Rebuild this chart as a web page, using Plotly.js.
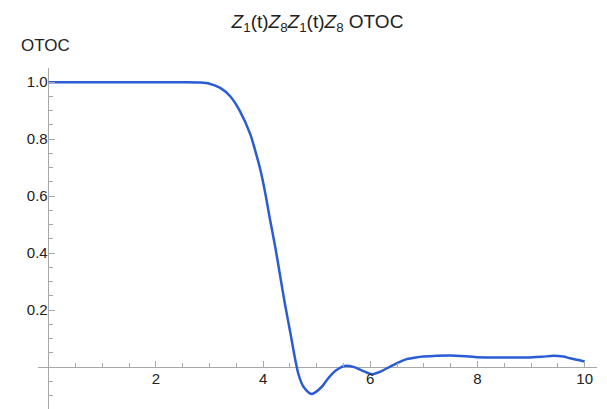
<!DOCTYPE html>
<html>
<head>
<meta charset="utf-8">
<script src="https://cdn.plot.ly/plotly-3.0.1.min.js"></script>
<style>html,body{margin:0;padding:0;background:#fff}#chart{width:607px;height:409px}</style>
</head>
<body>
<div id="chart"></div>
<script>
const t = [0, 0.5, 1, 1.5, 2, 2.5, 2.83, 3.0, 3.2, 3.39, 3.57, 3.76, 3.85, 3.95, 4.04, 4.13, 4.23, 4.32, 4.41, 4.51, 4.60, 4.66, 4.75, 4.91, 5.10, 5.19, 5.35, 5.52, 5.7, 5.85, 6.03, 6.2, 6.37, 6.52, 6.68, 6.85, 6.99, 7.49, 7.99, 8.49, 8.98, 9.2, 9.42, 9.6, 9.73, 10.0];
const otoc = [1, 1, 1, 1, 1, 1, 0.999, 0.995, 0.980, 0.950, 0.898, 0.818, 0.762, 0.692, 0.611, 0.517, 0.418, 0.318, 0.219, 0.119, 0.026, -0.025, -0.068, -0.094, -0.068, -0.045, -0.013, 0.004, 0.0, -0.012, -0.025, -0.015, 0.002, 0.016, 0.028, 0.034, 0.037, 0.041, 0.035, 0.034, 0.034, 0.036, 0.040, 0.037, 0.031, 0.020];
const xTickVals = [2, 4, 6, 8, 10];
const xTickText = ["2", "4", "6", "8", "10"];
const yTickVals = [0.2, 0.4, 0.6, 0.8, 1.0];
const yTickText = ["0.2", "0.4", "0.6", "0.8", "1.0"];

const xr = [-0.2, 10.23], yr = [-0.147, 1.05];
const x0frac = (0 - xr[0]) / (xr[1] - xr[0]);
const y0frac = (0 - yr[0]) / (yr[1] - yr[0]);
const axisColor = '#a8a8a8';
const tickFont = {family: 'Liberation Sans, Arial, sans-serif', size: 15, color: '#222'};

Plotly.newPlot('chart', [
  {x: t, y: otoc, type: 'scatter', mode: 'lines',
   line: {color: '#2a5cd6', width: 2.5, shape: 'spline', smoothing: 0.8}, hoverinfo: 'skip'},
  {x: [], y: [], xaxis: 'x2', yaxis: 'y2', type: 'scatter', mode: 'lines', hoverinfo: 'skip'},
  {x: [], y: [], xaxis: 'x2', yaxis: 'y3', type: 'scatter', mode: 'lines', hoverinfo: 'skip'}
], {
  width: 607, height: 409,
  margin: {l: 38, r: 10, t: 68, b: 0},
  paper_bgcolor: '#fff', plot_bgcolor: 'rgba(0,0,0,0)',
  showlegend: false,
  title: {
    text: '<i>Z</i><sub>1</sub>(t)<i>Z</i><sub>8</sub><i>Z</i><sub>1</sub>(t)<i>Z</i><sub>8</sub> OTOC',
    font: {family: 'Liberation Sans, Arial, sans-serif', size: 19, color: '#222'},
    x: 0.5, xref: 'paper', xanchor: 'center',
    y: 1 - 21/409, yref: 'container', yanchor: 'middle'
  },
  xaxis: {
    range: xr, domain: [0, 1], showgrid: false, showline: false, ticks: '', showticklabels: false,
    zeroline: true, zerolinecolor: axisColor, zerolinewidth: 1
  },
  yaxis: {
    range: yr, domain: [0, 1], showgrid: false, showline: false, ticks: '', showticklabels: false,
    zeroline: true, zerolinecolor: axisColor, zerolinewidth: 1
  },
  xaxis2: {
    range: [0, xr[1]], domain: [x0frac, 1], anchor: 'y2',
    showgrid: false, zeroline: false, showline: false,
    tickmode: 'array', tickvals: xTickVals, ticktext: xTickText,
    ticks: 'inside', ticklen: 6, tickcolor: axisColor, tickwidth: 1,
    ticklabelstandoff: 1, tickfont: tickFont,
    minor: {tickmode: 'linear', dtick: 0.5, tick0: 0, ticks: 'inside', ticklen: 4, tickcolor: axisColor, tickwidth: 1, showgrid: false}
  },
  yaxis2: {
    range: [0, yr[1]], domain: [y0frac, 1], anchor: 'x2',
    showgrid: false, zeroline: false, showline: false,
    tickmode: 'array', tickvals: yTickVals, ticktext: yTickText,
    ticks: 'inside', ticklen: 6, tickcolor: axisColor, tickwidth: 1,
    tickfont: tickFont,
    minor: {tickmode: 'linear', dtick: 0.05, tick0: 0, ticks: 'inside', ticklen: 4, tickcolor: axisColor, tickwidth: 1, showgrid: false}
  },
  yaxis3: {
    range: [yr[0], 0], domain: [0, y0frac], anchor: 'x2',
    showgrid: false, zeroline: false, showline: false, showticklabels: false,
    tickmode: 'linear', tick0: 0, dtick: 0.05,
    ticks: 'inside', ticklen: 4, tickcolor: axisColor, tickwidth: 1
  },
  annotations: [{
    text: 'OTOC', xref: 'paper', yref: 'paper', showarrow: false,
    x: (19 - 38) / 559, xanchor: 'left', y: 1 + (68 - 45) / 341, yanchor: 'middle',
    font: {family: 'Liberation Sans, Arial, sans-serif', size: 17, color: '#222'}
  }]
}, {displayModeBar: false, staticPlot: true});
</script>
</body>
</html>
